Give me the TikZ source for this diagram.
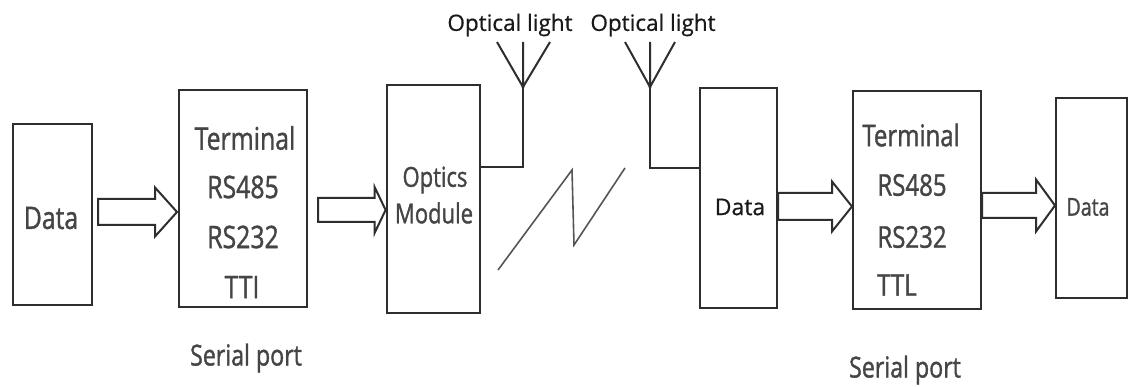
\documentclass[tikz,border=0pt]{standalone}
\usepackage{fontspec}
\setmainfont{Open Sans}
\newfontfamily\boxfont[FakeStretch=0.8,FakeBold=1.2]{Open Sans}
\newfontfamily\plainfont[FakeBold=0.6]{Open Sans}
\usetikzlibrary{calc}
\definecolor{ln}{HTML}{2E2E2E}
\definecolor{tx}{HTML}{454545}
\definecolor{zg}{HTML}{555555}
% #1 start coordinate, #2 tip coordinate, #3 shaft half height, #4 head half height, #5 head length
\newcommand\fatarr[5]{%
  \draw[fatline] ($(#1)+(0,-#3)$) -- ($(#2)+(-#5,-#3)$) -- ($(#2)+(-#5,-#4)$) -- (#2)
    -- ($(#2)+(-#5,#4)$) -- ($(#2)+(-#5,#3)$) -- ($(#1)+(0,#3)$) -- cycle;}
\begin{document}
\begin{tikzpicture}[x=1pt,y=-1pt,
  blk/.style={draw=ln, line width=2pt, rectangle, inner sep=0pt},
  fatline/.style={draw=ln, line width=2pt, line join=miter},
  bt/.style={font=\boxfont\fontsize{31}{36}\selectfont, text=tx, inner sep=0pt},
  pt/.style={font=\plainfont\fontsize{22.5}{26}\selectfont, text=black!90, inner sep=0pt},
  ant/.style={draw=ln, line width=2pt},
]
\useasboundingbox (0,0) rectangle (1129,387);
\fill[white] (0,0) rectangle (1129,387);

% boxes
\node[blk, minimum width=79, minimum height=181] (d1) at (52.5,214.5) {};
\node[blk, minimum width=128, minimum height=217] (t1) at (243,198.5) {};
\node[blk, line width=2.8pt, minimum width=93, minimum height=228] (om) at (433.5,199) {};
\node[blk, minimum width=77, minimum height=220] (d2) at (738.5,198) {};
\node[blk, minimum width=128, minimum height=218] (t2) at (917,200) {};
\node[blk, minimum width=71, minimum height=200] (d3) at (1091.5,198) {};

% box texts
\node[bt] (d1t) at (51,218) {Data};
\node[bt] (t1a) at (245,138) {Terminal};
\node[bt] (t1b) at (243,187) {RS485};
\node[bt] (t1c) at (243,237) {RS232};
\node[bt] (t1d) at (242,287) {TTI};
\node[bt, font=\boxfont\fontsize{27.5}{32}\selectfont] (om1) at (435,180) {Optics};
\node[bt, font=\boxfont\fontsize{27.5}{32}\selectfont] (om2) at (434,213) {Module};
\node[pt, font=\plainfont\fontsize{23}{26}\selectfont] (d2t) at (740,207) {Data};
\node[bt, font=\boxfont\fontsize{30}{34}\selectfont] (t2a) at (911,135) {Terminal};
\node[bt, font=\boxfont\fontsize{30}{34}\selectfont] (t2b) at (912,185) {RS485};
\node[bt, font=\boxfont\fontsize{30}{34}\selectfont] (t2c) at (912,237) {RS232};
\node[bt, font=\boxfont\fontsize{30}{34}\selectfont] (t2d) at (897,285) {TTL};
\node[bt, font=\boxfont\fontsize{24.5}{30}\selectfont] (d3t) at (1088,207) {Data};

% captions
\node[bt, font=\boxfont\fontsize{29}{34}\selectfont] (sp1) at (246,358) {Serial port};
\node[bt, font=\boxfont\fontsize{29}{34}\selectfont] (sp2) at (905,370) {Serial port};
\node[pt] (ol1) at (510,25) {Optical light};
\node[pt] (ol2) at (653,25) {Optical light};

% fat arrows
\coordinate (a1s) at ($(d1.east)+(5,-2.5)$);
\coordinate (a1t) at ($(a1s -| t1.west)+(-1,0)$);
\fatarr{a1s}{a1t}{13}{24.5}{22}
\coordinate (a2s) at ($(t1.east)+(10,11.5)$);
\coordinate (a2t) at (a2s -| om.west);
\fatarr{a2s}{a2t}{12}{23}{11}
\coordinate (a3s) at ($(d2.east)+(0,8.5)$);
\coordinate (a3t) at (a3s -| t2.west);
\fatarr{a3s}{a3t}{13.5}{25}{20}
\coordinate (a4s) at ($(t2.east)+(0,5.5)$);
\coordinate (a4t) at (a4s -| d3.west);
\fatarr{a4s}{a4t}{12.5}{26}{19}

% antennas
\coordinate (j1) at (523,87);
\coordinate (j2) at (650,87);
\draw[ant] ($(om.east)+(0,-32)$) -| (j1);
\draw[ant] (j1) -- ++(-26,-45) (j1) -- ++(0,-45) (j1) -- ++(27,-45);
\fill[ln] (j1) circle (1.6);
\draw[ant] ($(d2.west)+(0,-30)$) -| (j2);
\draw[ant] (j2) -- ++(-25,-45) (j2) -- ++(0,-45) (j2) -- ++(25,-45);
\fill[ln] (j2) circle (1.6);

% link break symbol
\draw[zg, line width=1.6pt] (498,270) -- (572,170) -- (574,245) -- (625,168);
\end{tikzpicture}
\end{document}
